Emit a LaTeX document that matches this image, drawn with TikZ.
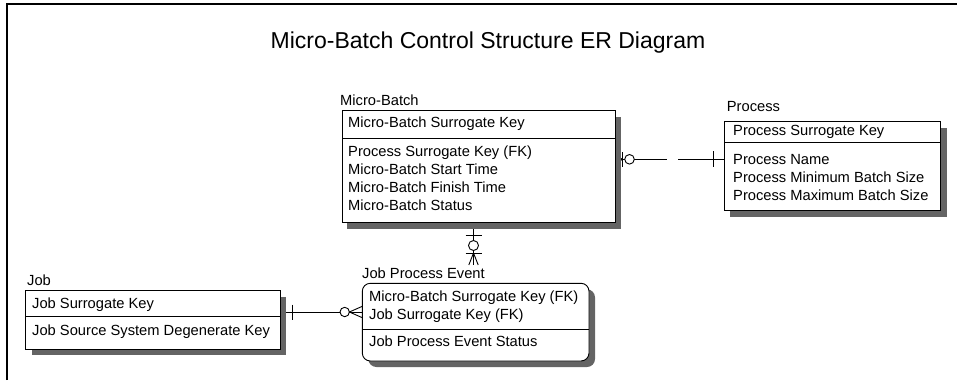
\documentclass[tikz,border=0pt]{standalone}
\usepackage{fontspec}
\setmainfont{Liberation Sans}
\usetikzlibrary{calc}
\pgfdeclarelayer{conn}
\pgfsetlayers{conn,main}
\definecolor{shadowc}{RGB}{100,100,100}
\tikzset{
  ent/.style={draw, fill=white, line width=0.9pt, inner sep=0pt, outer sep=0pt},
  shd/.style={fill=shadowc, draw=none},
  txt/.style={anchor=base west, inner sep=0pt, font=\fontsize{14.7}{18}\selectfont},
  cline/.style={line width=0.9pt},
}
\begin{document}
\begin{tikzpicture}[x=1pt,y=-1pt]
\useasboundingbox (0,0) rectangle (957,380);
% frame
\draw[line width=1.6pt] (7,380) -- (7,4) -- (957,4);
% title
\node[anchor=base, inner sep=0pt, font=\fontsize{23}{28}\selectfont] (title) at (488,48) {Micro-Batch Control Structure ER Diagram};

% ---------- shadows ----------
\path[shd] (347,116.7) rectangle (621,228.5);
\path[shd] (730,127.5) rectangle (946.7,216.7);
\path[shd] (31.7,296.7) rectangle (286,355);
\path[shd, rounded corners=8pt] (368.3,289.3) rectangle (595,367);

% ---------- Micro-Batch ----------
\node[ent, minimum width=273pt, minimum height=111.8pt] (mb) at (478.5,166.6) {};
\draw[line width=0.9pt] (mb.west |- 0,138.3) -- (mb.east |- 0,138.3);
\node[txt] (mbl) at (340,105) {Micro-Batch};
\node[txt] (mb1) at (348,127.7) {Micro-Batch Surrogate Key};
\node[txt] (mb2) at (348,156) {Process Surrogate Key (FK)};
\node[txt] (mb3) at (348,174) {Micro-Batch Start Time};
\node[txt] (mb4) at (348,192) {Micro-Batch Finish Time};
\node[txt] (mb5) at (348,210) {Micro-Batch Status};

% ---------- Process ----------
\node[ent, minimum width=216.7pt, minimum height=89.2pt] (pr) at (832.35,166.1) {};
\draw[line width=0.9pt] (pr.west |- 0,142.7) -- (pr.east |- 0,142.7);
\node[txt] (prl) at (726.7,111.5) {Process};
\node[txt] (pr1) at (733,135) {Process Surrogate Key};
\node[txt] (pr2) at (733,164) {Process Name};
\node[txt] (pr3) at (733,182) {Process Minimum Batch Size};
\node[txt] (pr4) at (733,200) {Process Maximum Batch Size};

% ---------- Job ----------
\node[ent, minimum width=254.3pt, minimum height=58.3pt] (job) at (152.85,319.85) {};
\draw[line width=0.9pt] (job.west |- 0,316.7) -- (job.east |- 0,316.7);
\node[txt] (jobl) at (27,285) {Job};
\node[txt] (job1) at (32,308.3) {Job Surrogate Key};
\node[txt] (job2) at (32,335) {Job Source System Degenerate Key};

% ---------- Job Process Event ----------
\node[ent, rounded corners=8pt, minimum width=226.7pt, minimum height=77.7pt] (jpe) at (475.65,322.15) {};
\draw[line width=0.9pt] (jpe.west |- 0,329) -- (jpe.east |- 0,329);
\node[txt] (jpel) at (362,278.3) {Job Process Event};
\node[txt] (jpe1) at (369,301.7) {Micro-Batch Surrogate Key (FK)};
\node[txt] (jpe2) at (369,319) {Job Surrogate Key (FK)};
\node[txt] (jpe3) at (369,346.7) {Job Process Event Status};

% ---------- connectors (below the boxes and their shadows) ----------
\begin{pgfonlayer}{conn}
% Micro-Batch -- Process
\coordinate (g1) at (667,159.3);
\coordinate (g2) at (678,159.3);
\draw[cline] (mb.east |- 0,155.3) -- (622.7,159.3) -- (mb.east |- 0,163.3);
\draw[cline] (mb.east |- 0,159.3) -- (g1);
\draw[cline] (622.7,152) -- (622.7,166.7);
\draw[cline, fill=white] (629.5,159.3) circle[radius=4.8pt];
\draw[cline] (g2) -- (pr.west |- 0,159.3);
\draw[cline] (713.3,151.3) -- (713.3,167.3);
% Micro-Batch -- Job Process Event
\coordinate (jt) at (473.5,265);
\draw[cline] (mb.south -| jt) -- (jt);
\draw[cline] (465.5,235) -- (481.5,235);
\draw[cline, fill=white] (473.5,245.5) circle[radius=5pt];
\draw[cline] (465.5,253) -- (481.5,253);
\draw[cline] (468.8,265) -- (473.5,253) -- (478.2,265);
% Job -- Job Process Event
\draw[cline] (job.east |- 0,312) -- (jpe.west |- 0,312);
\draw[cline] (292.3,304.5) -- (292.3,319.5);
\draw[cline, fill=white] (344.7,312) circle[radius=4.7pt];
\draw[cline] (jpe.west |- 0,306.3) -- (349.4,312) -- (jpe.west |- 0,317.7);
\end{pgfonlayer}
\end{tikzpicture}
\end{document}
